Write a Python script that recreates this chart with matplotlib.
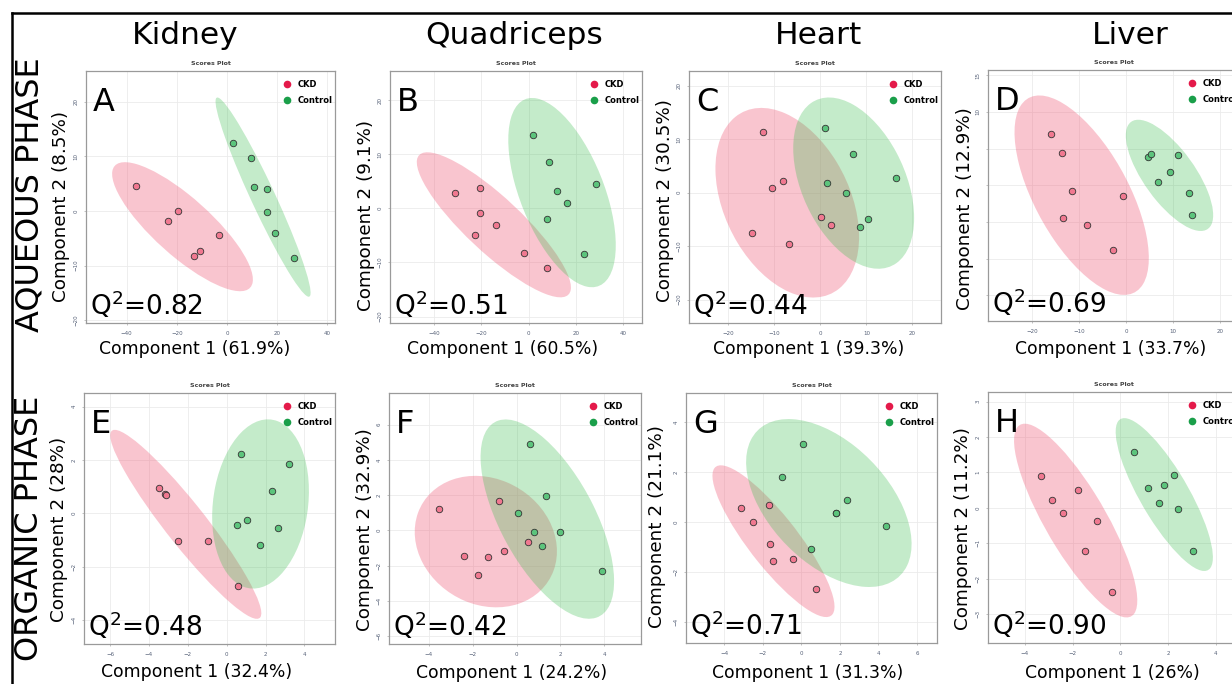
import numpy as np
import matplotlib.pyplot as plt
from matplotlib.patches import Ellipse
from matplotlib.lines import Line2D

# ---- data ----
A_ckd_x = [-36.3, -19.4, -23.3, -3.2, -10.8, -13.3]
A_ckd_y = [4.6, 0.0, -1.9, -4.4, -7.4, -8.2]
A_ctl_x = [2.5, 9.8, 10.6, 15.8, 16.1, 19.3, 26.8]
A_ctl_y = [12.5, 9.7, 4.3, 4.1, -0.2, -4.0, -8.7]

B_ckd_x = [-31.2, -20.6, -20.5, -13.7, -22.9, -1.9, 7.6]
B_ckd_y = [2.9, 3.8, -0.9, -3.0, -4.9, -8.2, -11.0]
B_ctl_x = [1.9, 8.8, 12.2, 16.3, 7.9, 28.4, 23.7]
B_ctl_y = [13.6, 8.6, 3.2, 0.9, -1.9, 4.5, -8.5]

C_ckd_x = [-12.5, -8.0, -10.4, -14.9, -6.9, 0.2, 2.3]
C_ckd_y = [11.4, 2.2, 0.9, -7.5, -9.6, -4.5, -6.0]
C_ctl_x = [1.1, 7.2, 1.4, 5.5, 16.5, 10.4, 8.6]
C_ctl_y = [12.2, 7.3, 1.9, 0.0, 2.7, -5.0, -6.5]

D_ckd_x = [-16.0, -13.5, -11.5, -13.3, -8.3, -0.6, -2.7]
D_ckd_y = [7.0, 4.4, -0.8, -4.5, -5.4, -1.4, -8.8]
D_ctl_x = [4.6, 5.4, 11.1, 9.4, 6.7, 13.4, 14.0]
D_ctl_y = [3.8, 4.3, 4.1, 1.8, 0.4, -1.0, -4.0]

E_ckd_x = [-3.46, -3.16, -3.12, -2.50, -0.96, 0.57]
E_ckd_y = [0.94, 0.71, 0.69, -1.05, -1.04, -2.73]
E_ctl_x = [0.74, 3.19, 2.33, 1.06, 0.51, 2.62, 1.73]
E_ctl_y = [2.21, 1.84, 0.83, -0.25, -0.45, -0.54, -1.19]

F_ckd_x = [-3.54, -0.78, -2.40, -1.29, -1.75, -0.55, 0.52]
F_ckd_y = [1.23, 1.64, -1.44, -1.53, -2.51, -1.19, -0.68]
F_ctl_x = [0.62, 1.34, 0.08, 0.78, 1.96, 1.16, 3.88]
F_ctl_y = [4.88, 1.97, 0.98, -0.08, -0.08, -0.91, -2.31]

G_ckd_x = [-3.13, -2.53, -1.68, -1.64, -1.49, -0.45, 0.78]
G_ckd_y = [0.56, 0.01, 0.67, -0.88, -1.58, -1.50, -2.68]
G_ctl_x = [0.07, -1.00, 2.37, 1.82, 1.82, 4.38, 0.52]
G_ctl_y = [3.15, 1.82, 0.89, 0.35, 0.35, -0.16, -1.07]

H_ckd_x = [-3.31, -2.86, -2.39, -1.76, -0.96, -1.47, -0.34]
H_ckd_y = [0.89, 0.22, -0.16, 0.50, -0.38, -1.22, -2.38]
H_ctl_x = [0.56, 2.23, 1.82, 1.15, 1.63, 2.43, 3.06]
H_ctl_y = [1.58, 0.93, 0.65, 0.57, 0.14, -0.03, -1.23]

letters = ['A', 'B', 'C', 'D', 'E', 'F', 'G', 'H']
tissues = ['Kidney', 'Quadriceps', 'Heart', 'Liver']
q2 = ['0.82', '0.51', '0.44', '0.69', '0.48', '0.42', '0.71', '0.90']
comp1 = ['61.9%', '60.5%', '39.3%', '33.7%', '32.4%', '24.2%', '31.3%', '26%']
comp2 = ['8.5%', '9.1%', '30.5%', '12.9%', '28%', '32.9%', '21.1%', '11.2%']

ckd_x = [A_ckd_x, B_ckd_x, C_ckd_x, D_ckd_x, E_ckd_x, F_ckd_x, G_ckd_x, H_ckd_x]
ckd_y = [A_ckd_y, B_ckd_y, C_ckd_y, D_ckd_y, E_ckd_y, F_ckd_y, G_ckd_y, H_ckd_y]
ctl_x = [A_ctl_x, B_ctl_x, C_ctl_x, D_ctl_x, E_ctl_x, F_ctl_x, G_ctl_x, H_ctl_x]
ctl_y = [A_ctl_y, B_ctl_y, C_ctl_y, D_ctl_y, E_ctl_y, F_ctl_y, G_ctl_y, H_ctl_y]

# ---- layout (pixels) ----
W, H = 1232, 684
boxes = [(86, 71, 335, 323), (390, 71, 642, 323), (689, 71, 941, 323), (988, 70, 1240, 321),
         (84, 393, 335, 644), (389, 393, 641, 644), (686, 393, 937, 643), (988, 392, 1240, 643)]
xlims = [(-56.2, 43.1), (-58.8, 48.1), (-28.5, 26.2), (-29.3, 24.2),
         (-7.34, 5.57), (-5.81, 5.67), (-5.99, 7.04), (-5.54, 5.01)]
ylims = [(-20.5, 25.6), (-21.2, 25.4), (-24.4, 22.8), (-18.5, 15.7),
         (-4.9, 4.51), (-6.45, 7.79), (-4.86, 5.18), (-3.82, 3.27)]
xticks = [range(-40, 41, 20), range(-40, 41, 20), range(-20, 21, 10), range(-20, 21, 10),
          range(-6, 5, 2), range(-4, 5, 2), range(-4, 7, 2), range(-4, 5, 2)]
yticks = [range(-20, 21, 10), range(-20, 21, 10), range(-20, 21, 10), range(-15, 16, 5),
          range(-4, 5, 2), range(-6, 7, 2), range(-4, 5, 2), range(-3, 4, 1)]
xlab_pos = [(195, 349), (503, 349), (809, 349), (1111, 349),
            (197, 672), (512, 673), (808, 673), (1112, 673)]
ylab_pos = [(61, 206), (366, 215), (665, 201), (965, 209),
            (59, 529), (365, 530), (657, 527), (963, 529)]
title_x = [185, 514, 818, 1130]

CKD_FILL, CKD_DOT, CKD_ELL = '#f07890', '#e41a4a', (0.945, 0.384, 0.494)
CTL_FILL, CTL_DOT, CTL_ELL = '#5cc47c', '#1a9f4a', (0.235, 0.745, 0.314)
K95 = np.sqrt(-2 * np.log(0.05))


def conf_ellipse(ax, x, y, color, alpha):
    x = np.asarray(x); y = np.asarray(y)
    cov = np.cov(x, y)
    vals, vecs = np.linalg.eigh(cov)
    order = vals.argsort()[::-1]
    vals, vecs = vals[order], vecs[:, order]
    ang = np.degrees(np.arctan2(vecs[1, 0], vecs[0, 0]))
    e = Ellipse((x.mean(), y.mean()), 2 * K95 * np.sqrt(vals[0]), 2 * K95 * np.sqrt(vals[1]),
                angle=ang, facecolor=color, alpha=alpha, edgecolor='none', zorder=1)
    ax.add_patch(e)


def rect(l, t, r, b):
    return [l / W, 1 - b / H, (r - l) / W, (b - t) / H]


fig = plt.figure(figsize=(W / 100, H / 100), dpi=100)

for i in range(8):
    ax = fig.add_axes(rect(*boxes[i]))
    conf_ellipse(ax, ckd_x[i], ckd_y[i], CKD_ELL, 0.37)
    conf_ellipse(ax, ctl_x[i], ctl_y[i], CTL_ELL, 0.30)
    ax.scatter(ckd_x[i], ckd_y[i], s=22, c=CKD_FILL, edgecolors='#333333', linewidths=0.6, zorder=3)
    ax.scatter(ctl_x[i], ctl_y[i], s=22, c=CTL_FILL, edgecolors='#333333', linewidths=0.6, zorder=3)
    ax.set_xlim(*xlims[i])
    ax.set_ylim(*ylims[i])
    ax.set_xticks(list(xticks[i]))
    ax.set_yticks(list(yticks[i]))
    if letters[i] == 'D':
        ax.set_yticklabels(['' if v not in (10, 15) else str(v) for v in yticks[i]])
    ax.grid(True, color='#ebebeb', lw=0.6, zorder=0)
    ax.set_axisbelow(True)
    for s in ax.spines.values():
        s.set_color('#9a9a9a')
        s.set_linewidth(0.9)
    ax.tick_params(length=1.5, width=0.5, color='#aaaaaa', labelsize=4, labelcolor='#556077', pad=4)
    ax.tick_params(axis='y', labelrotation=90)
    for lab in ax.get_yticklabels():
        lab.set_va('center')
    ax.set_title('Scores Plot', fontsize=4.5, fontweight='bold', color='#444444', pad=4)
    ax.text(0.027, 0.935, letters[i], transform=ax.transAxes, fontsize=23, va='top', ha='left', zorder=5)
    ax.text(0.015, 0.03, 'Q$^2$=' + q2[i], transform=ax.transAxes, fontsize=19,
            va='baseline', ha='left', zorder=5)
    handles = [Line2D([], [], ls='none', marker='o', ms=5.5, mfc=CKD_DOT, mec='none', label='CKD'),
               Line2D([], [], ls='none', marker='o', ms=5.5, mfc=CTL_DOT, mec='none', label='Control')]
    ax.legend(handles=handles, loc='upper right', bbox_to_anchor=(1.0, 0.975), frameon=False,
              handletextpad=0.9, labelspacing=0.85, borderaxespad=0, borderpad=0.3,
              handlelength=0.8, prop={'size': 6, 'weight': 'bold'})
    fig.text(xlab_pos[i][0] / W, 1 - xlab_pos[i][1] / H, 'Component 1 (' + comp1[i] + ')',
             fontsize=12.4, ha='center', va='center')
    fig.text(ylab_pos[i][0] / W, 1 - ylab_pos[i][1] / H, 'Component 2 (' + comp2[i] + ')',
             fontsize=13.2, ha='center', va='center', rotation=90)

for name, x in zip(tissues, title_x):
    fig.text(x / W, 1 - 35 / H, name, fontsize=22.5, ha='center', va='center')

fig.text(30 / W, 1 - 195 / H, 'AQUEOUS PHASE', fontsize=23, rotation=90, ha='center', va='center')
fig.text(30 / W, 1 - 528 / H, 'ORGANIC PHASE', fontsize=23, rotation=90, ha='center', va='center')

# outer frame
fig.add_artist(Line2D([12 / W, 1], [1 - 13 / H, 1 - 13 / H], color='black', lw=1.8))
fig.add_artist(Line2D([12 / W, 12 / W], [0, 1 - 13 / H], color='black', lw=1.8))

fig.savefig('out.png', dpi=100)
